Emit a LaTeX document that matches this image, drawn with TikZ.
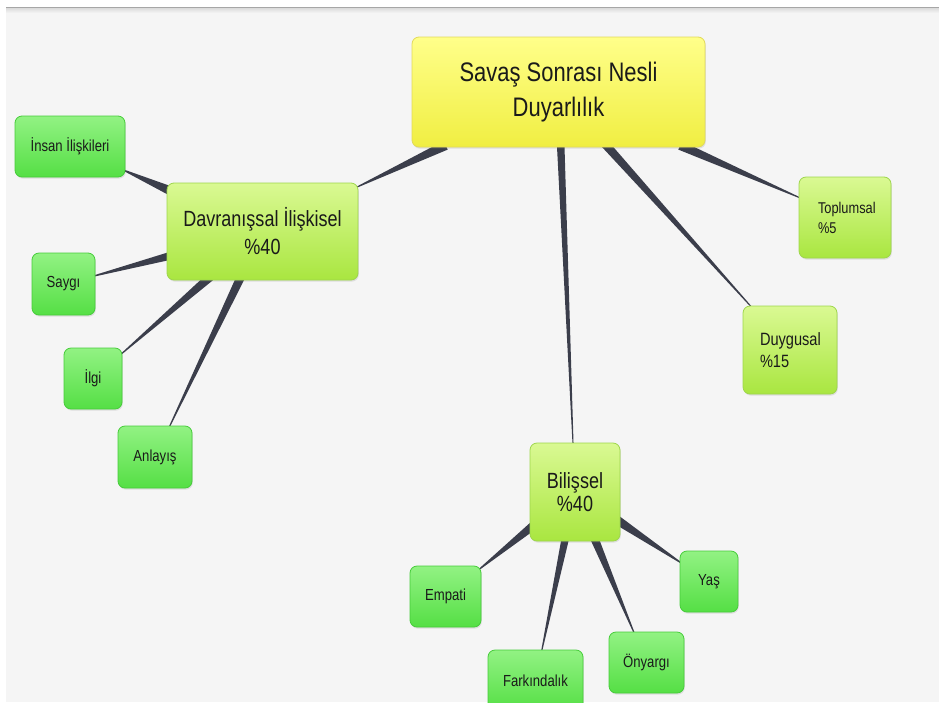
\documentclass[tikz,border=0pt]{standalone}
\usepackage{fontspec}
\setmainfont{Liberation Sans}[FakeStretch=0.82]
\usetikzlibrary{calc,shadows,backgrounds}

\definecolor{spokecol}{HTML}{3B3E4B}
\definecolor{canvasgrey}{HTML}{F5F5F5}
\definecolor{textcol}{HTML}{1A1A1A}
\definecolor{rootTop}{HTML}{FFFF8A}
\definecolor{rootBot}{HTML}{F0EE42}
\definecolor{rootEdge}{HTML}{E2DA5A}
\definecolor{midTop}{HTML}{DAF993}
\definecolor{midBot}{HTML}{A9E640}
\definecolor{midEdge}{HTML}{9ED64C}
\definecolor{leafTop}{HTML}{92F283}
\definecolor{leafBot}{HTML}{55DF45}
\definecolor{leafEdge}{HTML}{46CC3A}

% tapered connector: parent, child, half width at parent, half width at child
\newcommand\spoke[4]{%
  \path (#1) -- (#2) coordinate[pos=0] (sp-a) coordinate[pos=1] (sp-b);
  \coordinate (sp-s) at ($(sp-a)!-5pt!(sp-b)$);
  \coordinate (sp-t) at ($(sp-b)!-3pt!(sp-a)$);
  \fill[spokecol] ($(sp-s)!#3!90:(sp-t)$) -- ($(sp-t)!#4!-90:(sp-s)$)
    -- ($(sp-t)!#4!90:(sp-s)$) -- ($(sp-s)!#3!-90:(sp-t)$) -- cycle;
}

\tikzset{
  boxbase/.style={rectangle, rounded corners=7pt, line width=0.8pt,
    inner sep=0pt, text=textcol, align=center,
    drop shadow={opacity=0.2, shadow xshift=0.8pt, shadow yshift=-1.6pt}},
  rootbox/.style={boxbase, draw=rootEdge, top color=rootTop, bottom color=rootBot,
    font=\fontsize{26.8}{35}\selectfont},
  midbox/.style={boxbase, draw=midEdge, top color=midTop, bottom color=midBot},
  leafbox/.style={boxbase, draw=leafEdge, top color=leafTop, bottom color=leafBot,
    font=\fontsize{16}{19}\selectfont},
}

\begin{document}
\begin{tikzpicture}[x=1pt,y=-1pt]
\useasboundingbox (0,0) rectangle (939,702);
\clip (0,0) rectangle (939,702);

% page and canvas
\begin{pgfonlayer}{background}
  \fill[white] (0,0) rectangle (939,702);
  \fill[canvasgrey] (6,7) rectangle (939,702);
  \shade[top color=black!16, bottom color=canvasgrey] (6,7) rectangle (939,13);
  \draw[black!35, line width=1pt] (6,7) -- (939,7);
\end{pgfonlayer}

% main topic
\node[rootbox, minimum width=293pt, minimum height=110pt] (root) at (558.5,92)
  {Savaş Sonrası Nesli\\Duyarlılık};

% second level
\node[midbox, minimum width=191pt, minimum height=97pt,
  font=\fontsize{22}{28}\selectfont] (dav) at (262.5,231.5)
  {Davranışsal İlişkisel\\\%40};
\node[midbox, minimum width=90pt, minimum height=98pt,
  font=\fontsize{22}{23}\selectfont] (bil) at (575,492)
  {Bilişsel\\\%40};
\node[midbox, minimum width=94pt, minimum height=88pt, align=left,
  text width=60pt, inner xsep=17pt,
  font=\fontsize{17.8}{22}\selectfont] (duy) at (790,350)
  {Duygusal\\\%15};
\node[midbox, minimum width=92pt, minimum height=81pt, align=left,
  text width=54pt, inner xsep=19pt,
  font=\fontsize{15.6}{20}\selectfont] (top) at (845,217.5)
  {Toplumsal\\\%5};

% leaves of the behavioural branch
\node[leafbox, minimum width=110pt, minimum height=61pt] (insan) at (70,146.5) {İnsan İlişkileri};
\node[leafbox, minimum width=63pt, minimum height=62pt] (saygi) at (63.5,284) {Saygı};
\node[leafbox, minimum width=58pt, minimum height=61pt] (ilgi) at (93,378.5) {İlgi};
\node[leafbox, minimum width=74pt, minimum height=62pt] (anlayis) at (155,457) {Anlayış};

% leaves of the cognitive branch
\node[leafbox, minimum width=71pt, minimum height=61pt] (empati) at (445.5,596.5) {Empati};
\node[leafbox, minimum width=95pt, minimum height=61pt] (fark) at (535.5,680.5) {Farkındalık};
\node[leafbox, minimum width=75pt, minimum height=61pt] (onyargi) at (646.5,662.5) {Önyargı};
\node[leafbox, minimum width=58pt, minimum height=61pt] (yas) at (709,581.5) {Yaş};

% connectors
\begin{pgfonlayer}{background}
  \spoke{root}{dav}{4.8pt}{0.5pt}
  \spoke{root}{bil}{3.8pt}{0.5pt}
  \spoke{root}{duy}{4.3pt}{0.5pt}
  \spoke{root}{top}{4.6pt}{0.5pt}
  \spoke{dav}{insan}{4.6pt}{0.6pt}
  \spoke{dav}{saygi}{4.0pt}{0.6pt}
  \spoke{dav}{ilgi}{4.3pt}{0.5pt}
  \spoke{dav}{anlayis}{4.3pt}{0.5pt}
  \spoke{bil}{empati}{4.3pt}{0.6pt}
  \spoke{bil}{fark}{3.8pt}{0.5pt}
  \spoke{bil}{onyargi}{4.2pt}{0.5pt}
  \spoke{bil}{yas}{4.6pt}{0.6pt}
\end{pgfonlayer}
\end{tikzpicture}
\end{document}
